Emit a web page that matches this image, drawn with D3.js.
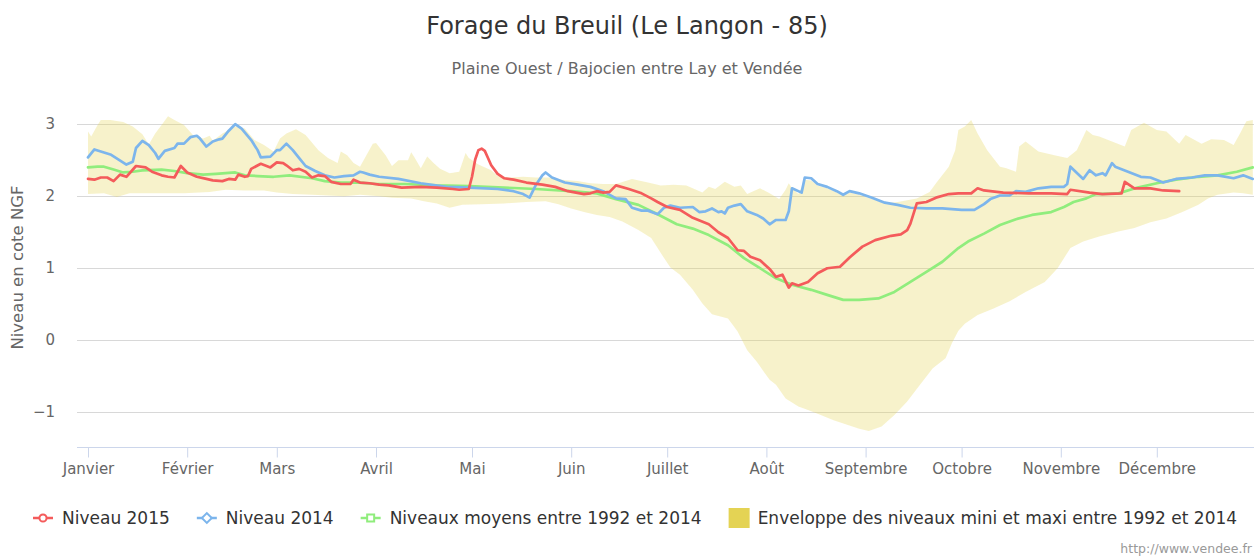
<!DOCTYPE html>
<html lang="fr">
<head>
<meta charset="utf-8">
<title>Forage du Breuil (Le Langon - 85)</title>
<script src="https://d3js.org/d3.v7.min.js"></script>
<style>
  html, body { margin: 0; padding: 0; background: #fff; }
  svg { display: block; font-family: "DejaVu Sans", sans-serif; }
</style>
</head>
<body>
<div id="chart"></div>
<script>
// Données : [jour depuis le 1er janvier, niveau en cote NGF]
const moisLabels = ['Janvier', 'Février', 'Mars', 'Avril', 'Mai', 'Juin',
  'Juillet', 'Août', 'Septembre', 'Octobre', 'Novembre', 'Décembre'];
const yTicks = [-1, 0, 1, 2, 3];

const niveau2015 = [
  [0,2.23],[2,2.22],[4,2.25],[6,2.25],[8,2.20],[10,2.29],[12,2.26],[15,2.41],[18,2.39],[20,2.33],
  [23,2.28],[25,2.26],[27,2.25],[29,2.41],[31,2.32],[34,2.26],[37,2.23],[39,2.21],[42,2.20],[44,2.23],
  [46,2.22],[47,2.29],[49,2.26],[50,2.27],[51,2.37],[54,2.44],[57,2.39],[59,2.46],[61,2.45],[62,2.42],
  [64,2.35],[66,2.37],[68,2.33],[70,2.25],[72,2.28],[74,2.27],[76,2.19],[79,2.16],[82,2.16],[83,2.22],
  [85,2.18],[88,2.17],[91,2.15],[94,2.14],[98,2.11],[104,2.12],[109,2.11],[114,2.09],[116,2.08],[119,2.09],
  [120,2.26],[121,2.50],[122,2.63],[123,2.65],[124,2.62],[125,2.52],[126,2.42],[128,2.30],[130,2.24],[133,2.22],
  [137,2.18],[142,2.15],[146,2.12],[150,2.06],[155,2.02],[157,2.03],[159,2.06],[161,2.04],[163,2.05],[165,2.14],
  [169,2.09],[173,2.03],[176,1.96],[178,1.91],[181,1.84],[185,1.80],[189,1.69],[194,1.60],[197,1.49],[200,1.41],
  [203,1.24],[205,1.23],[207,1.15],[210,1.10],[213,0.98],[215,0.87],[217,0.90],[219,0.72],[220,0.78],[222,0.75],
  [225,0.80],[228,0.92],[231,0.99],[233,1.00],[235,1.01],[238,1.14],[242,1.29],[246,1.38],[251,1.44],[254,1.46],
  [256,1.52],[257,1.61],[259,1.89],[262,1.91],[265,1.97],[269,2.02],[272,2.03],[276,2.03],[278,2.10],[280,2.07],
  [286,2.04],[294,2.03],[301,2.03],[306,2.02],[307,2.08],[313,2.04],[317,2.02],[323,2.03],[324,2.19],[327,2.10],
  [332,2.10],[336,2.07],[341,2.06]
];

const niveau2014 = [
  [0,2.53],[2,2.64],[7,2.57],[12,2.43],[14,2.47],[15,2.66],[17,2.76],[19,2.70],[21,2.59],[22,2.51],
  [24,2.62],[27,2.66],[28,2.72],[30,2.72],[32,2.81],[34,2.83],[35,2.79],[37,2.68],[39,2.75],[41,2.78],
  [42,2.79],[44,2.90],[46,2.99],[48,2.93],[51,2.77],[53,2.63],[54,2.53],[57,2.54],[59,2.63],[60,2.63],
  [62,2.72],[64,2.63],[66,2.52],[68,2.41],[71,2.34],[74,2.28],[77,2.25],[80,2.27],[83,2.28],[85,2.33],
  [86,2.32],[88,2.29],[91,2.26],[97,2.23],[104,2.17],[112,2.12],[119,2.11],[128,2.09],[133,2.06],[136,2.02],
  [138,1.97],[140,2.15],[142,2.28],[143,2.32],[145,2.25],[149,2.18],[153,2.15],[157,2.12],[161,2.06],[165,1.96],
  [168,1.95],[170,1.83],[173,1.79],[175,1.79],[178,1.74],[180,1.83],[182,1.86],[185,1.83],[189,1.84],[191,1.77],
  [193,1.78],[195,1.82],[197,1.77],[198,1.78],[199,1.75],[200,1.83],[202,1.86],[204,1.88],[206,1.78],[209,1.73],
  [211,1.68],[213,1.60],[215,1.66],[218,1.66],[219,1.78],[220,2.10],[223,2.04],[224,2.25],[226,2.24],[228,2.16],
  [231,2.12],[234,2.06],[236,2.01],[238,2.06],[241,2.03],[245,1.97],[249,1.90],[253,1.87],[257,1.83],[262,1.82],
  [267,1.82],[270,1.81],[273,1.80],[277,1.80],[280,1.88],[282,1.95],[285,2.00],[288,2.00],[290,2.06],[293,2.05],
  [297,2.10],[301,2.12],[305,2.12],[306,2.16],[307,2.40],[311,2.23],[313,2.35],[315,2.28],[317,2.31],[318,2.28],
  [320,2.45],[321,2.40],[325,2.33],[329,2.26],[332,2.25],[336,2.18],[340,2.23],[345,2.25],[349,2.28],[353,2.28],
  [358,2.24],[361,2.28],[364,2.23]
];

const niveauMoyen = [
  [0,2.39],[3,2.40],[5,2.40],[8,2.36],[11,2.32],[14,2.33],[17,2.35],[23,2.36],[27,2.34],[31,2.31],
  [36,2.29],[40,2.30],[46,2.32],[49,2.28],[53,2.27],[58,2.26],[63,2.28],[70,2.24],[74,2.20],[79,2.18],
  [85,2.18],[90,2.16],[99,2.16],[109,2.14],[119,2.13],[130,2.11],[140,2.09],[151,2.06],[159,2.03],[165,1.95],
  [172,1.87],[178,1.74],[184,1.60],[189,1.54],[194,1.45],[200,1.31],[205,1.13],[210,0.99],[215,0.85],[220,0.76],
  [226,0.69],[231,0.62],[236,0.55],[241,0.55],[247,0.57],[252,0.66],[257,0.80],[262,0.94],[267,1.08],[272,1.27],
  [275,1.36],[280,1.47],[285,1.59],[290,1.67],[295,1.73],[301,1.77],[305,1.84],[308,1.91],[312,1.96],[315,2.02],
  [322,2.03],[328,2.11],[334,2.17],[340,2.22],[347,2.26],[353,2.28],[359,2.33],[364,2.39]
];

const enveloppeMax = [
  [0,2.89],[1,2.82],[3,2.98],[4,3.05],[7,3.05],[11,3.02],[14,2.96],[17,2.85],[19,2.71],[21,2.86],
  [23,2.98],[25,3.10],[27,3.05],[30,2.98],[33,2.83],[36,2.79],[38,2.83],[39,2.76],[42,2.86],[46,2.96],
  [49,2.93],[52,2.77],[55,2.70],[58,2.61],[60,2.79],[62,2.86],[65,2.92],[68,2.84],[72,2.63],[75,2.52],
  [78,2.45],[79,2.61],[81,2.56],[83,2.45],[85,2.40],[87,2.56],[89,2.72],[90,2.73],[93,2.56],[95,2.41],
  [97,2.49],[100,2.49],[101,2.60],[102,2.53],[104,2.38],[106,2.54],[108,2.45],[110,2.37],[113,2.31],[116,2.33],
  [118,2.59],[119,2.52],[122,2.43],[126,2.35],[128,2.27],[132,2.25],[136,2.26],[140,2.25],[144,2.25],[148,2.22],
  [153,2.20],[157,2.17],[161,2.16],[165,2.16],[170,2.23],[175,2.18],[179,2.14],[183,2.15],[187,2.14],[192,2.04],
  [194,2.12],[196,2.09],[199,2.19],[202,2.12],[204,2.14],[206,2.02],[210,2.10],[213,2.03],[216,1.95],[218,2.08],
  [219,2.17],[220,2.10],[222,2.02],[224,2.22],[226,2.21],[228,2.14],[231,2.10],[234,2.04],[236,2.00],[238,2.04],
  [241,2.01],[245,1.95],[249,1.89],[253,1.91],[259,1.96],[263,2.05],[265,2.17],[269,2.40],[271,2.63],[272,2.91],
  [274,2.96],[276,3.05],[278,2.86],[281,2.63],[285,2.40],[287,2.38],[290,2.33],[291,2.68],[293,2.75],[297,2.61],
  [302,2.56],[306,2.52],[309,2.63],[312,2.91],[314,2.84],[316,2.82],[320,2.75],[324,2.68],[326,2.91],[330,3.01],
  [334,2.91],[337,2.89],[341,2.72],[343,2.84],[348,2.72],[351,2.78],[355,2.77],[358,2.70],[360,2.86],[362,3.03],
  [364,3.05]
];

const enveloppeMin = [
  [0,2.02],[5,2.03],[9,1.98],[13,2.03],[21,2.03],[30,2.03],[38,2.05],[43,2.08],[49,2.07],[55,2.07],
  [59,2.04],[64,2.02],[70,2.01],[75,2.00],[80,1.99],[85,2.01],[88,2.00],[91,1.99],[95,1.97],[101,1.96],
  [105,1.92],[109,1.89],[113,1.83],[117,1.87],[123,1.88],[130,1.89],[137,1.91],[143,1.92],[147,1.88],[151,1.82],
  [155,1.77],[159,1.73],[163,1.70],[167,1.64],[172,1.52],[176,1.41],[179,1.20],[182,1.00],[185,0.90],[189,0.69],
  [192,0.50],[195,0.35],[200,0.29],[203,0.11],[206,-0.15],[209,-0.31],[213,-0.56],[215,-0.63],[218,-0.82],[222,-0.93],
  [225,-0.98],[229,-1.05],[233,-1.12],[237,-1.18],[241,-1.24],[244,-1.27],[248,-1.21],[252,-1.05],[256,-0.86],[260,-0.63],
  [264,-0.40],[268,-0.26],[270,-0.05],[272,0.12],[274,0.22],[278,0.34],[283,0.43],[288,0.53],[293,0.66],[299,0.80],
  [303,0.99],[307,1.27],[311,1.36],[316,1.43],[322,1.50],[327,1.55],[332,1.63],[337,1.68],[342,1.77],[347,1.87],
  [350,1.96],[353,2.01],[358,2.04],[361,2.03],[364,2.01]
];

// Séries et légende
const series = [
  { name: 'Niveau 2015', data: niveau2015, color: '#f45b5b', symbol: 'circle' },
  { name: 'Niveau 2014', data: niveau2014, color: '#7cb5ec', symbol: 'diamond' },
  { name: 'Niveaux moyens entre 1992 et 2014', data: niveauMoyen, color: '#90ed7d', symbol: 'square' },
  { name: 'Enveloppe des niveaux mini et maxi entre 1992 et 2014', color: '#e4d354', symbol: 'area' }
];

const width = 1254;
const height = 556;
const plot = { left: 77, right: 1254, top: 87.5, bottom: 447.5 };

const jour = d => new Date(Date.UTC(2015, 0, 1) + d * 864e5);

const x = d3.scaleUtc()
  .domain([jour(0), jour(365)])
  .range([88, 1256]);

const y = d3.scaleLinear()
  .domain([-1.5, 3.5])
  .range([plot.bottom, plot.top]);

const svg = d3.select('#chart')
  .append('svg')
  .attr('width', width)
  .attr('height', height)
  .attr('viewBox', `0 0 ${width} ${height}`);

svg.append('defs').append('clipPath')
  .attr('id', 'plot-clip')
  .append('rect')
  .attr('x', plot.left)
  .attr('y', plot.top - 40)
  .attr('width', plot.right - plot.left)
  .attr('height', plot.bottom - plot.top + 40);

// Titres
svg.append('text')
  .attr('x', width / 2)
  .attr('y', 34)
  .attr('text-anchor', 'middle')
  .attr('fill', '#333333')
  .attr('font-size', '24px')
  .text('Forage du Breuil (Le Langon - 85)');

svg.append('text')
  .attr('x', width / 2)
  .attr('y', 74)
  .attr('text-anchor', 'middle')
  .attr('fill', '#666666')
  .attr('font-size', '16px')
  .text('Plaine Ouest / Bajocien entre Lay et Vendée');

// Grille horizontale
svg.append('g')
  .attr('class', 'grid')
  .selectAll('line')
  .data(yTicks)
  .join('line')
  .attr('x1', plot.left)
  .attr('x2', plot.right)
  .attr('y1', d => Math.round(y(d)) + 0.5)
  .attr('y2', d => Math.round(y(d)) + 0.5)
  .attr('stroke', '#d8d8d8')
  .attr('stroke-width', 1);

// Axe Y
const yAxis = svg.append('g')
  .attr('transform', `translate(${plot.left},0)`)
  .call(d3.axisLeft(y).tickValues(yTicks).tickFormat(d3.format('d')).tickSize(0).tickPadding(22));
yAxis.select('.domain').remove();
yAxis.selectAll('text')
  .attr('font-family', '"DejaVu Sans", sans-serif')
  .attr('font-size', '15px')
  .attr('fill', '#666666');

svg.append('text')
  .attr('transform', `translate(23,${(plot.top + plot.bottom) / 2}) rotate(-90)`)
  .attr('text-anchor', 'middle')
  .attr('fill', '#666666')
  .attr('font-size', '16.5px')
  .text('Niveau en cote NGF');

// Axe X (mois)
const moisDebut = d3.range(12).map(m => new Date(Date.UTC(2015, m, 1)));
const xAxis = svg.append('g')
  .attr('transform', `translate(0,${plot.bottom})`)
  .call(d3.axisBottom(x).tickValues(moisDebut).tickFormat((d, i) => moisLabels[i]).tickSize(10).tickPadding(6));
xAxis.select('.domain').remove();
xAxis.selectAll('line').attr('stroke', '#ccd6eb');
xAxis.selectAll('text')
  .attr('font-family', '"DejaVu Sans", sans-serif')
  .attr('font-size', '15px')
  .attr('fill', '#666666');

svg.append('line')
  .attr('x1', plot.left)
  .attr('x2', plot.right)
  .attr('y1', plot.bottom)
  .attr('y2', plot.bottom)
  .attr('stroke', '#ccd6eb');

// Courbes
const plotGroup = svg.append('g').attr('clip-path', 'url(#plot-clip)');

const line = d3.line()
  .x(d => x(jour(d[0])))
  .y(d => y(d[1]));

// Enveloppe : bord haut puis bord bas à rebours
plotGroup.append('path')
  .attr('d', line(enveloppeMax.concat(enveloppeMin.slice().reverse())) + 'Z')
  .attr('fill', '#e4d354')
  .attr('fill-opacity', 0.3)
  .attr('stroke', 'none');

series.slice(0, 3).reverse().forEach(s => {
  plotGroup.append('path')
    .datum(s.data)
    .attr('d', line)
    .attr('fill', 'none')
    .attr('stroke', s.color)
    .attr('stroke-width', 2.7)
    .attr('stroke-linejoin', 'round')
    .attr('stroke-linecap', 'round');
});

// Légende
const legend = svg.append('g').attr('class', 'legend');
let lx = 33;
const ly = 518;
series.forEach(s => {
  const item = legend.append('g').attr('transform', `translate(${lx},${ly})`);
  if (s.symbol === 'area') {
    item.append('rect')
      .attr('x', 0).attr('y', -10)
      .attr('width', 21).attr('height', 20)
      .attr('fill', s.color);
  } else {
    item.append('line')
      .attr('x1', 0).attr('x2', 20)
      .attr('stroke', s.color).attr('stroke-width', 2.5);
    item.append('path')
      .attr('transform', 'translate(10,0)' + (s.symbol === 'diamond' ? ' rotate(45)' : ''))
      .attr('d', s.symbol === 'circle'
        ? d3.symbol(d3.symbolCircle, 40)()
        : 'M-3.5,-3.5H3.5V3.5H-3.5Z')
      .attr('fill', '#ffffff')
      .attr('stroke', s.color)
      .attr('stroke-width', 2);
  }
  const t = item.append('text')
    .attr('x', 29)
    .attr('y', 6)
    .attr('fill', '#333333')
    .attr('font-size', '17px')
    .text(s.name);
  lx += 29 + t.node().getComputedTextLength() + 27;
});

// Crédits
svg.append('text')
  .attr('x', 1252)
  .attr('y', 553)
  .attr('text-anchor', 'end')
  .attr('fill', '#999999')
  .attr('font-size', '12.5px')
  .text('http://www.vendee.fr');
</script>
</body>
</html>
